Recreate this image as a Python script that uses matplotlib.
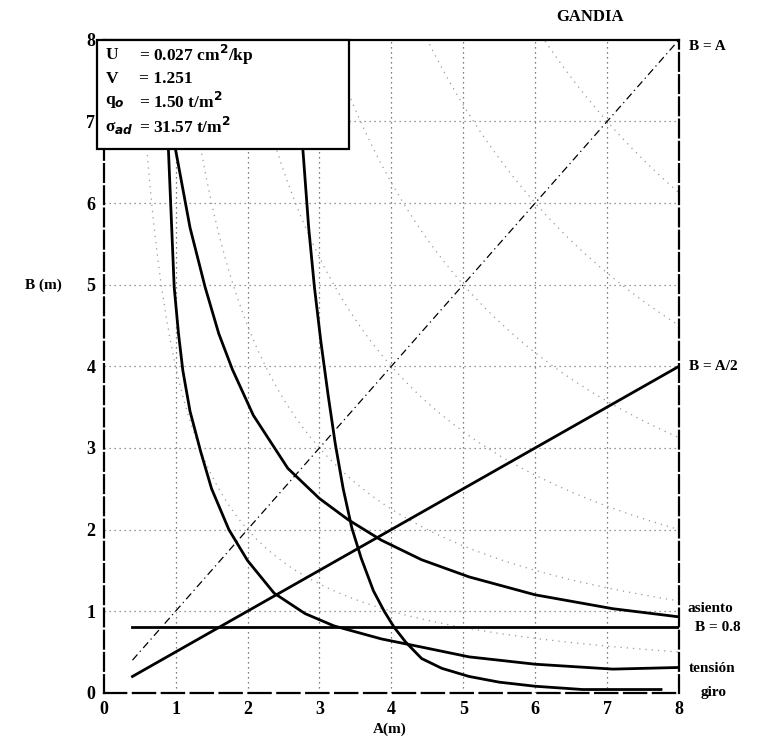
import numpy as np
import matplotlib
matplotlib.use("Agg")
import matplotlib.pyplot as plt
from matplotlib.patches import Rectangle

# Datos (A en m, B en m)
tension_A = [0.9, 0.95, 0.98, 1.04, 1.1, 1.2, 1.35, 1.5, 1.74, 2.0, 2.37, 2.8, 3.2, 3.86, 4.42, 5.08, 6.0, 7.08, 8.0]
tension_B = [6.65, 5.6, 4.97, 4.4, 3.95, 3.45, 2.95, 2.5, 2.0, 1.62, 1.22, 0.97, 0.82, 0.66, 0.56, 0.44, 0.35, 0.29, 0.31]

asiento_A = [1.0, 1.2, 1.41, 1.6, 1.79, 2.08, 2.56, 3.0, 3.4, 3.86, 4.42, 5.08, 6.0, 7.08, 8.0]
asiento_B = [6.65, 5.7, 4.97, 4.4, 3.96, 3.4, 2.75, 2.38, 2.12, 1.87, 1.63, 1.42, 1.2, 1.03, 0.93]

giro_A = [2.77, 2.85, 2.93, 3.02, 3.12, 3.22, 3.33, 3.45, 3.58, 3.75, 3.9, 4.04, 4.2, 4.42, 4.7, 5.08, 5.5, 6.0, 6.66, 7.75]
giro_B = [6.65, 5.7, 4.97, 4.3, 3.65, 3.05, 2.5, 2.02, 1.65, 1.25, 1.0, 0.8, 0.62, 0.42, 0.3, 0.2, 0.13, 0.08, 0.04, 0.04]

rectas_A = [0.4, 8.0]
b_min = 0.8
areas = [4, 9, 16, 25, 36, 49]

x_ticks = [0, 1, 2, 3, 4, 5, 6, 7, 8]
x_labels = ["0", "1", "2", "3", "4", "5", "6", "7", "8"]
y_ticks = [0, 1, 2, 3, 4, 5, 6, 7, 8]

leyenda = [
    ("U", "= 0.027 cm$^2$/kp"),
    ("V", "= 1.251"),
    ("q$_o$", "= 1.50 t/m$^2$"),
    ("σ$_{ad}$", "= 31.57 t/m$^2$"),
]

plt.rcParams["font.family"] = ["Liberation Serif", "DejaVu Serif"]
plt.rcParams["font.weight"] = "bold"

fig = plt.figure(figsize=(7.57, 7.37), dpi=100)
ax = fig.add_axes([0.137, 0.060, 0.760, 0.886])
ax.set_xlim(0, 8)
ax.set_ylim(0, 8)

# rejilla punteada
for v in x_ticks[1:-1]:
    ax.axvline(v, color="#555555", lw=0.9, ls=(0, (1, 3)), zorder=1)
    ax.axhline(v, color="#777777", lw=0.9, ls=(0, (1, 3)), zorder=1)

# lineas de area constante A*B
aa = np.linspace(0.3, 8, 300)
for c in areas:
    ax.plot(aa, c / aa, color="#999999", lw=0.9, ls=(0, (1, 4)), zorder=1)

# rectas
ra = np.array(rectas_A)
ax.plot(ra, ra, color="black", lw=0.9, ls=(0, (6, 3, 1, 3)), zorder=2)
ax.plot(ra, ra / 2, color="black", lw=2.0, zorder=3)
ax.plot(ra, [b_min, b_min], color="black", lw=2.0, zorder=3)

# curvas
ax.plot(asiento_A, asiento_B, color="black", lw=2.0, zorder=3)
ax.plot(tension_A, tension_B, color="black", lw=2.0, zorder=3)
ax.plot(giro_A, giro_B, color="black", lw=2.0, zorder=3)

ax.set_xticks(x_ticks)
ax.set_xticklabels(x_labels)
ax.set_yticks(y_ticks)
ax.tick_params(length=0, labelsize=13, pad=6)
for lab in ax.get_xticklabels() + ax.get_yticklabels():
    lab.set_fontweight("bold")
for s in ["left", "right", "bottom", "top"]:
    ax.spines[s].set_linewidth(1.6)
ax.spines["left"].set_linestyle((0, (8, 2)))
ax.spines["right"].set_linestyle((0, (8, 2)))
ax.spines["bottom"].set_linestyle((0, (10, 3)))

# cuadro de datos
box = Rectangle((-0.011, 0.832), 0.438, 0.168, transform=ax.transAxes,
                facecolor="white", edgecolor="black", lw=1.6, zorder=5, clip_on=False)
ax.add_patch(box)
ys = [0.977, 0.940, 0.905, 0.866]
for (k, v), y in zip(leyenda, ys):
    ax.text(0.003, y, k, transform=ax.transAxes, fontsize=12.5, fontweight="bold",
            va="center", zorder=6)
    ax.text(0.062, y, v, transform=ax.transAxes, fontsize=12.5, fontweight="bold",
            va="center", zorder=6)

# etiquetas a la derecha
fs = 11
fig.text(0.910, 0.937, "B = A", fontsize=fs, fontweight="bold", va="center")
fig.text(0.910, 0.503, "B = A/2", fontsize=fs, fontweight="bold", va="center")
fig.text(0.908, 0.175, "asiento", fontsize=fs, fontweight="bold", va="center")
fig.text(0.918, 0.148, "B = 0.8", fontsize=fs, fontweight="bold", va="center")
fig.text(0.910, 0.093, "tensión", fontsize=fs, fontweight="bold", va="center")
fig.text(0.925, 0.061, "giro", fontsize=fs, fontweight="bold", va="center")

fig.text(0.735, 0.977, "GANDIA", fontsize=12, fontweight="bold", va="center")
fig.text(0.033, 0.613, "B (m)", fontsize=11, fontweight="bold", va="center")
fig.text(0.515, 0.010, "A(m)", fontsize=11, fontweight="bold", ha="center", va="center")

fig.savefig("out.png", dpi=100)
